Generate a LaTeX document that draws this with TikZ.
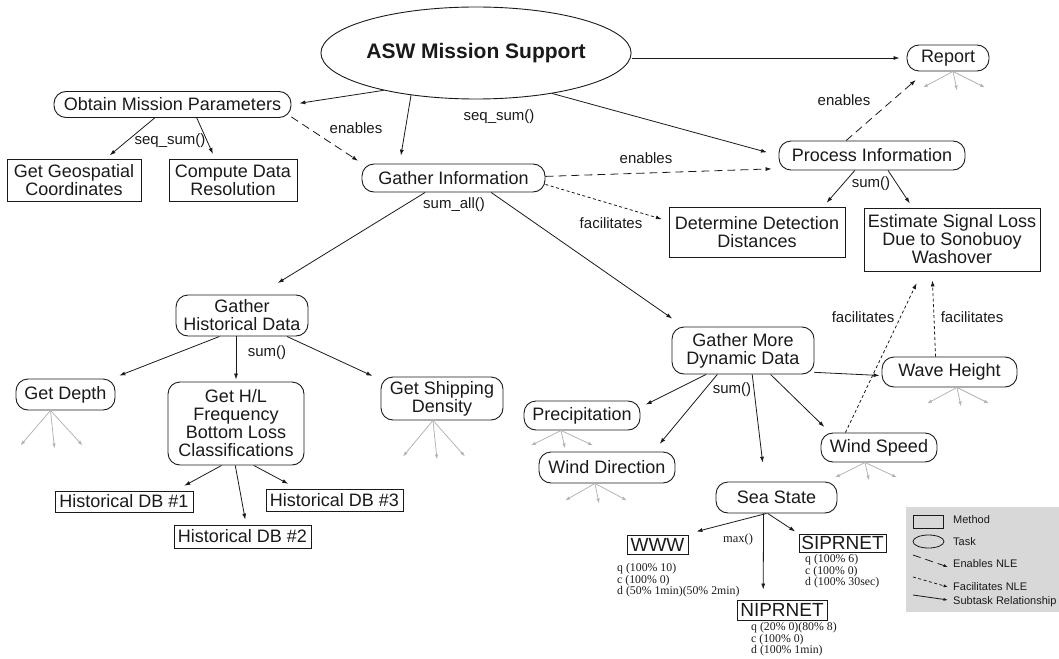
\documentclass[tikz,border=0pt]{standalone}
\usepackage{fontspec}
\setmainfont{Liberation Serif}
\setsansfont{Liberation Sans}
\usetikzlibrary{arrows.meta,shapes.geometric}

\begin{document}
\begin{tikzpicture}[x=1pt,y=-1pt,
  every node/.style={font=\sffamily\fontsize{18}{18}\selectfont,text=ink,align=center},
  task/.style={draw=ink,line width=0.9pt,rounded corners=12pt,inner sep=0pt},
  method/.style={draw=ink,line width=0.9pt,inner sep=0pt},
  lbl/.style={font=\sffamily\fontsize{15}{15}\selectfont,inner sep=0pt},
  attr/.style={font=\rmfamily\fontsize{11.8}{10.2}\selectfont,align=left,anchor=north west,inner sep=0pt},
  lgtext/.style={font=\sffamily\fontsize{11}{11}\selectfont,anchor=west,inner sep=0pt},
  sub/.style={draw=ink,line width=0.8pt,-{Latex[length=6pt,width=4pt]}},
  enab/.style={sub,dash pattern=on 8pt off 5pt},
  facil/.style={sub,dash pattern=on 3pt off 2.5pt},
  stub/.style={draw=stubgray,line width=0.8pt,-{Latex[length=5pt,width=3.5pt]}}]
\definecolor{ink}{HTML}{1A1A1A}\definecolor{stubgray}{HTML}{B4B4B4}
\definecolor{legendgray}{HTML}{D8D8D8}
\useasboundingbox (0,0) rectangle (1059,658);
\node[ellipse,draw=ink,line width=0.9pt,minimum width=256pt,minimum height=92pt,inner sep=0pt,font=\sffamily\bfseries\fontsize{21}{21}\selectfont] (asw) at (476,53) {ASW Mission Support};
\node[task,minimum width=82pt,minimum height=26pt] (report) at (948,58) {Report};
\node[task,minimum width=237pt,minimum height=26pt] (obtain) at (172.5,104.5) {Obtain Mission Parameters};
\node[task,minimum width=183pt,minimum height=28pt] (gather) at (453.5,178) {Gather Information};
\node[task,minimum width=186pt,minimum height=29pt] (process) at (872,155.5) {Process Information};
\node[task,minimum width=132pt,minimum height=41pt] (hist) at (242,315.5) {Gather\\Historical Data};
\node[task,minimum width=99pt,minimum height=31pt] (depth) at (65.5,394.5) {Get Depth};
\node[task,minimum width=136pt,minimum height=83pt] (hl) at (236,423.5) {Get H/L\\Frequency\\Bottom Loss\\Classifications};
\node[task,minimum width=122pt,minimum height=43pt] (ship) at (442,398.5) {Get Shipping\\Density};
\node[task,minimum width=142pt,minimum height=47pt] (dyn) at (743,350.5) {Gather More\\Dynamic Data};
\node[task,minimum width=135pt,minimum height=30pt] (wave) at (949.5,372) {Wave Height};
\node[task,minimum width=116pt,minimum height=29pt] (precip) at (582,415.5) {Precipitation};
\node[task,minimum width=136pt,minimum height=31pt] (winddir) at (607,467.5) {Wind Direction};
\node[task,minimum width=116pt,minimum height=29pt] (windspd) at (879,447.5) {Wind Speed};
\node[task,minimum width=121pt,minimum height=31pt] (sea) at (776.5,497.5) {Sea State};
\node[method,minimum width=134pt,minimum height=42pt] (geo) at (74,180) {Get Geospatial\\Coordinates};
\node[method,minimum width=128pt,minimum height=42pt] (comp) at (233,180) {Compute Data\\Resolution};
\node[method,minimum width=176pt,minimum height=50pt] (detect) at (757,232) {Determine Detection\\Distances};
\node[method,minimum width=176pt,minimum height=63pt] (signal) at (952,239.5) {Estimate Signal Loss\\Due to Sonobuoy\\Washover};
\node[method,minimum width=138pt,minimum height=21pt] (dbi) at (124,501.5) {Historical DB \#1};
\node[method,minimum width=137pt,minimum height=23pt] (dbii) at (242.5,536.5) {Historical DB \#2};
\node[method,minimum width=137pt,minimum height=22pt] (dbiii) at (334.5,500) {Historical DB \#3};
\node[method,minimum width=61pt,minimum height=19pt,font=\sffamily\fontsize{19}{19}\selectfont] (www) at (657.5,544.5) {WWW};
\node[method,minimum width=87pt,minimum height=18pt,font=\sffamily\fontsize{19}{19}\selectfont] (sipr) at (842.5,543) {SIPRNET};
\node[method,minimum width=90pt,minimum height=20pt,font=\sffamily\fontsize{19}{19}\selectfont] (nipr) at (782,610) {NIPRNET};
\node[lbl] (seqi) at (499,117) {seq\_sum()};
\node[lbl] (seqii) at (170,141) {seq\_sum()};
\node[lbl] (eni) at (356,128) {enables};
\node[lbl] (sumall) at (454,205) {sum\_all()};
\node[lbl] (enii) at (646,158) {enables};
\node[lbl] (eniii) at (844,100) {enables};
\node[lbl] (fai) at (611,223) {facilitates};
\node[lbl] (sumi) at (871,184) {sum()};
\node[lbl] (faii) at (863,317) {facilitates};
\node[lbl] (faiii) at (972,317) {facilitates};
\node[lbl] (sumii) at (267,353) {sum()};
\node[lbl] (sumiii) at (732,390) {sum()};
\node[font=\rmfamily\fontsize{12.5}{12.5}\selectfont,inner sep=0pt] (maxlbl) at (738,539) {max()};
\node[attr] (wwwattr) at (617,563) {q (100\% 10)\\c (100\% 0)\\d (50\% 1min)(50\% 2min)};
\node[attr] (siprattr) at (805,554) {q (100\% 6)\\c (100\% 0)\\d (100\% 30sec)};
\node[attr] (nipattr) at (751,622) {q (20\% 0)(80\% 8)\\c (100\% 0)\\d (100\% 1min)};
\draw[sub,shorten >=8pt] (asw.202) -- (obtain.east);
\draw[sub,shorten >=8pt] (asw.213) -- (gather.165);
\draw[sub,shorten >=12pt] (asw.332) -- (process.west);
\draw[sub,shorten >=7pt] (asw.east |- report.west) -- (report.west);
\draw[sub,shorten >=5pt] (obtain.217) -- (geo.34);
\draw[sub,shorten >=5pt] (obtain.331) -- (comp.130);
\draw[enab,shorten >=5pt] (obtain.354) -- (gather.171);
\draw[enab,shorten >=7pt] (gather.1) -- (process.188);
\draw[facil,shorten >=7pt] (gather.356) -- (detect.173);
\draw[sub,shorten >=22pt] (gather.207) -- (hist.51);
\draw[sub,shorten >=14pt] (gather.339) -- (dyn.158);
\draw[enab,shorten >=13pt] (process.150) -- (report.211);
\draw[sub,shorten >=5pt] (process.221) -- (detect.21);
\draw[sub,shorten >=5pt] (process.317) -- (signal.141);
\draw[sub,shorten >=8pt] (hist.223) -- (depth.19);
\draw[sub,shorten >=2pt] (hl.north |- hist.south) -- (hl.north);
\draw[sub,shorten >=9pt] (hist.335) -- (ship.163);
\draw[sub,shorten >=10pt] (hl.251) -- (dbi.12);
\draw[sub,shorten >=5pt] (hl.269) -- (dbii.73);
\draw[sub,shorten >=10pt] (hl.293) -- (dbiii.163);
\draw[sub,shorten >=6pt] (dyn.213) -- (precip.8);
\draw[sub,shorten >=10pt] (dyn.223) -- (winddir.19);
\draw[sub,shorten >=19pt] (dyn.291) -- (sea.126);
\draw[sub,shorten >=8pt] (dyn.319) -- (windspd.163);
\draw[sub,shorten >=2pt] (dyn.343) -- (wave.183);
\draw[facil,shorten >=13pt] (windspd.156) -- (signal.227);
\draw[facil,shorten >=9pt] (wave.132) -- (signal.238);
\draw[sub,shorten >=12pt] (sea.238) -- (www.20);
\draw[sub,shorten >=10pt] (sea.231) -- (nipr.151);
\draw[sub,shorten >=4pt] (sea.241) -- (sipr.168);
\foreach \n/\sx/\d in {report/5/16,depth/-15/35,ship/-9/36,precip/-21/15,winddir/-12/17,windspd/-14/15,wave/7.5/16}{
  \draw[stub] ([xshift=\sx pt]\n.south) -- ++(-30,\d);
  \draw[stub] ([xshift=\sx pt]\n.south) -- ++(4,\d+3);
  \draw[stub] ([xshift=\sx pt]\n.south) -- ++(32,\d);
}
\fill[legendgray] (906,507) rectangle (1059,612);
\node[method,line width=0.8pt,minimum width=30pt,minimum height=13pt] (lgmethod) at (928,521.5) {};
\node[ellipse,draw=ink,line width=0.8pt,minimum width=31pt,minimum height=13pt,inner sep=0pt] (lgtask) at (928.5,541.5) {};
\coordinate (lgenA) at (913,555); \coordinate (lgenB) at (948,567);
\coordinate (lgfaA) at (913,577); \coordinate (lgfaB) at (948,587);
\coordinate (lgsuA) at (913,595); \coordinate (lgsuB) at (948,600);
\draw[enab,-{Latex[length=4.5pt,width=3pt]}] (lgenA) -- (lgenB);
\draw[facil,-{Latex[length=4.5pt,width=3pt]}] (lgfaA) -- (lgfaB);
\draw[sub,-{Latex[length=4.5pt,width=3pt]}] (lgsuA) -- (lgsuB);
\node[lgtext] (lgmethodtxt) at (953,520) {Method};
\node[lgtext] (lgtasktxt) at (953,542) {Task};
\node[lgtext] (lgentxt) at (953,564) {Enables NLE};
\node[lgtext] (lgfatxt) at (953,587) {Facilitates NLE};
\node[lgtext] (lgsutxt) at (953,602) {Subtask Relationship};
\end{tikzpicture}
\end{document}
